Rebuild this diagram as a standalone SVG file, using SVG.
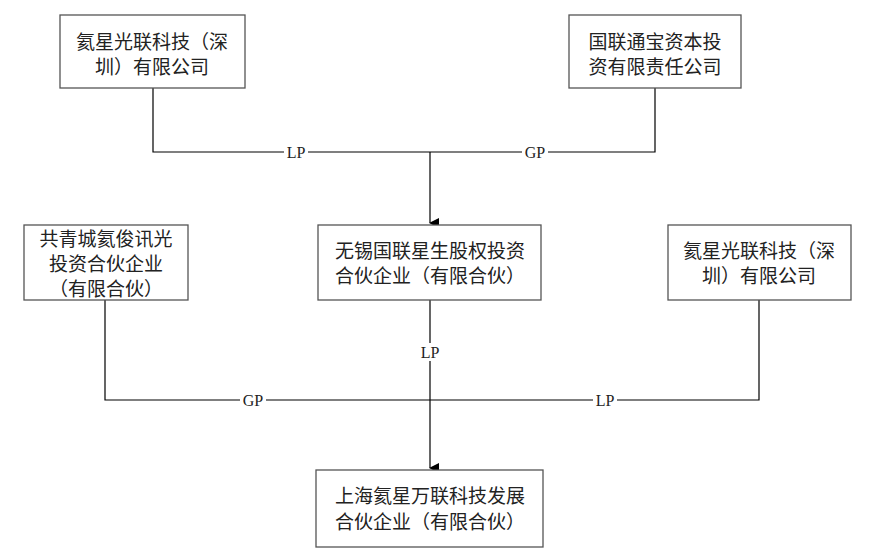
<svg xmlns="http://www.w3.org/2000/svg" width="876" height="552" viewBox="0 0 876 552">
<style>
.b{fill:#fff;stroke:#555;stroke-width:1.3}
.t{font-family:"Noto Sans CJK SC","Noto Sans CJK JP",sans-serif;font-size:19px;fill:#222;text-anchor:middle}
.l{font-family:"Liberation Serif",serif;font-size:16px;fill:#222;text-anchor:middle}
.c{fill:none;stroke:#000;stroke-width:1.2}
</style>
<defs><marker id="a" markerWidth="10" markerHeight="10" refX="5" refY="9" orient="auto" markerUnits="userSpaceOnUse" viewBox="0 0 10 10"><path d="M0,0L10,0L5,10Z" fill="#000"/></marker></defs>
<rect width="876" height="552" fill="#fff"/>
<g id="connectors">
<path class="c" d="M153,88V152H655V88"/>
<path class="c" d="M430,152V223" marker-end="url(#a)"/>
<path class="c" d="M105,300V400H759V300"/>
<path class="c" d="M430,300V468" marker-end="url(#a)"/>
<rect x="284" y="143" width="24" height="18" fill="#fff"/><text class="l" x="296" y="158">LP</text>
<rect x="522" y="143" width="26" height="18" fill="#fff"/><text class="l" x="535" y="158">GP</text>
<rect x="418" y="343" width="24" height="18" fill="#fff"/><text class="l" x="430" y="358">LP</text>
<rect x="240" y="391" width="26" height="18" fill="#fff"/><text class="l" x="253" y="406">GP</text>
<rect x="593" y="391" width="24" height="18" fill="#fff"/><text class="l" x="605" y="406">LP</text>
</g>
<g id="n1"><rect class="b" x="60" y="15" width="185" height="73"/><text class="t" x="152" y="49">氦星光联科技（深</text><text class="t" x="152" y="74">圳）有限公司</text></g>
<g id="n2"><rect class="b" x="569" y="15" width="172" height="73"/><text class="t" x="655" y="49">国联通宝资本投</text><text class="t" x="655" y="74">资有限责任公司</text></g>
<g id="n3"><rect class="b" x="318" y="225" width="223" height="75"/><text class="t" x="430" y="258">无锡国联星生股权投资</text><text class="t" x="430" y="283">合伙企业（有限合伙）</text></g>
<g id="n4"><rect class="b" x="24" y="225" width="164" height="75"/><text class="t" x="106" y="246">共青城氦俊讯光</text><text class="t" x="106" y="271">投资合伙企业</text><text class="t" x="106" y="296">（有限合伙）</text></g>
<g id="n5"><rect class="b" x="668" y="225" width="183" height="75"/><text class="t" x="759" y="258">氦星光联科技（深</text><text class="t" x="759" y="283">圳）有限公司</text></g>
<g id="n6"><rect class="b" x="316" y="470" width="227" height="77"/><text class="t" x="430" y="503">上海氦星万联科技发展</text><text class="t" x="430" y="529">合伙企业（有限合伙）</text></g>
</svg>
